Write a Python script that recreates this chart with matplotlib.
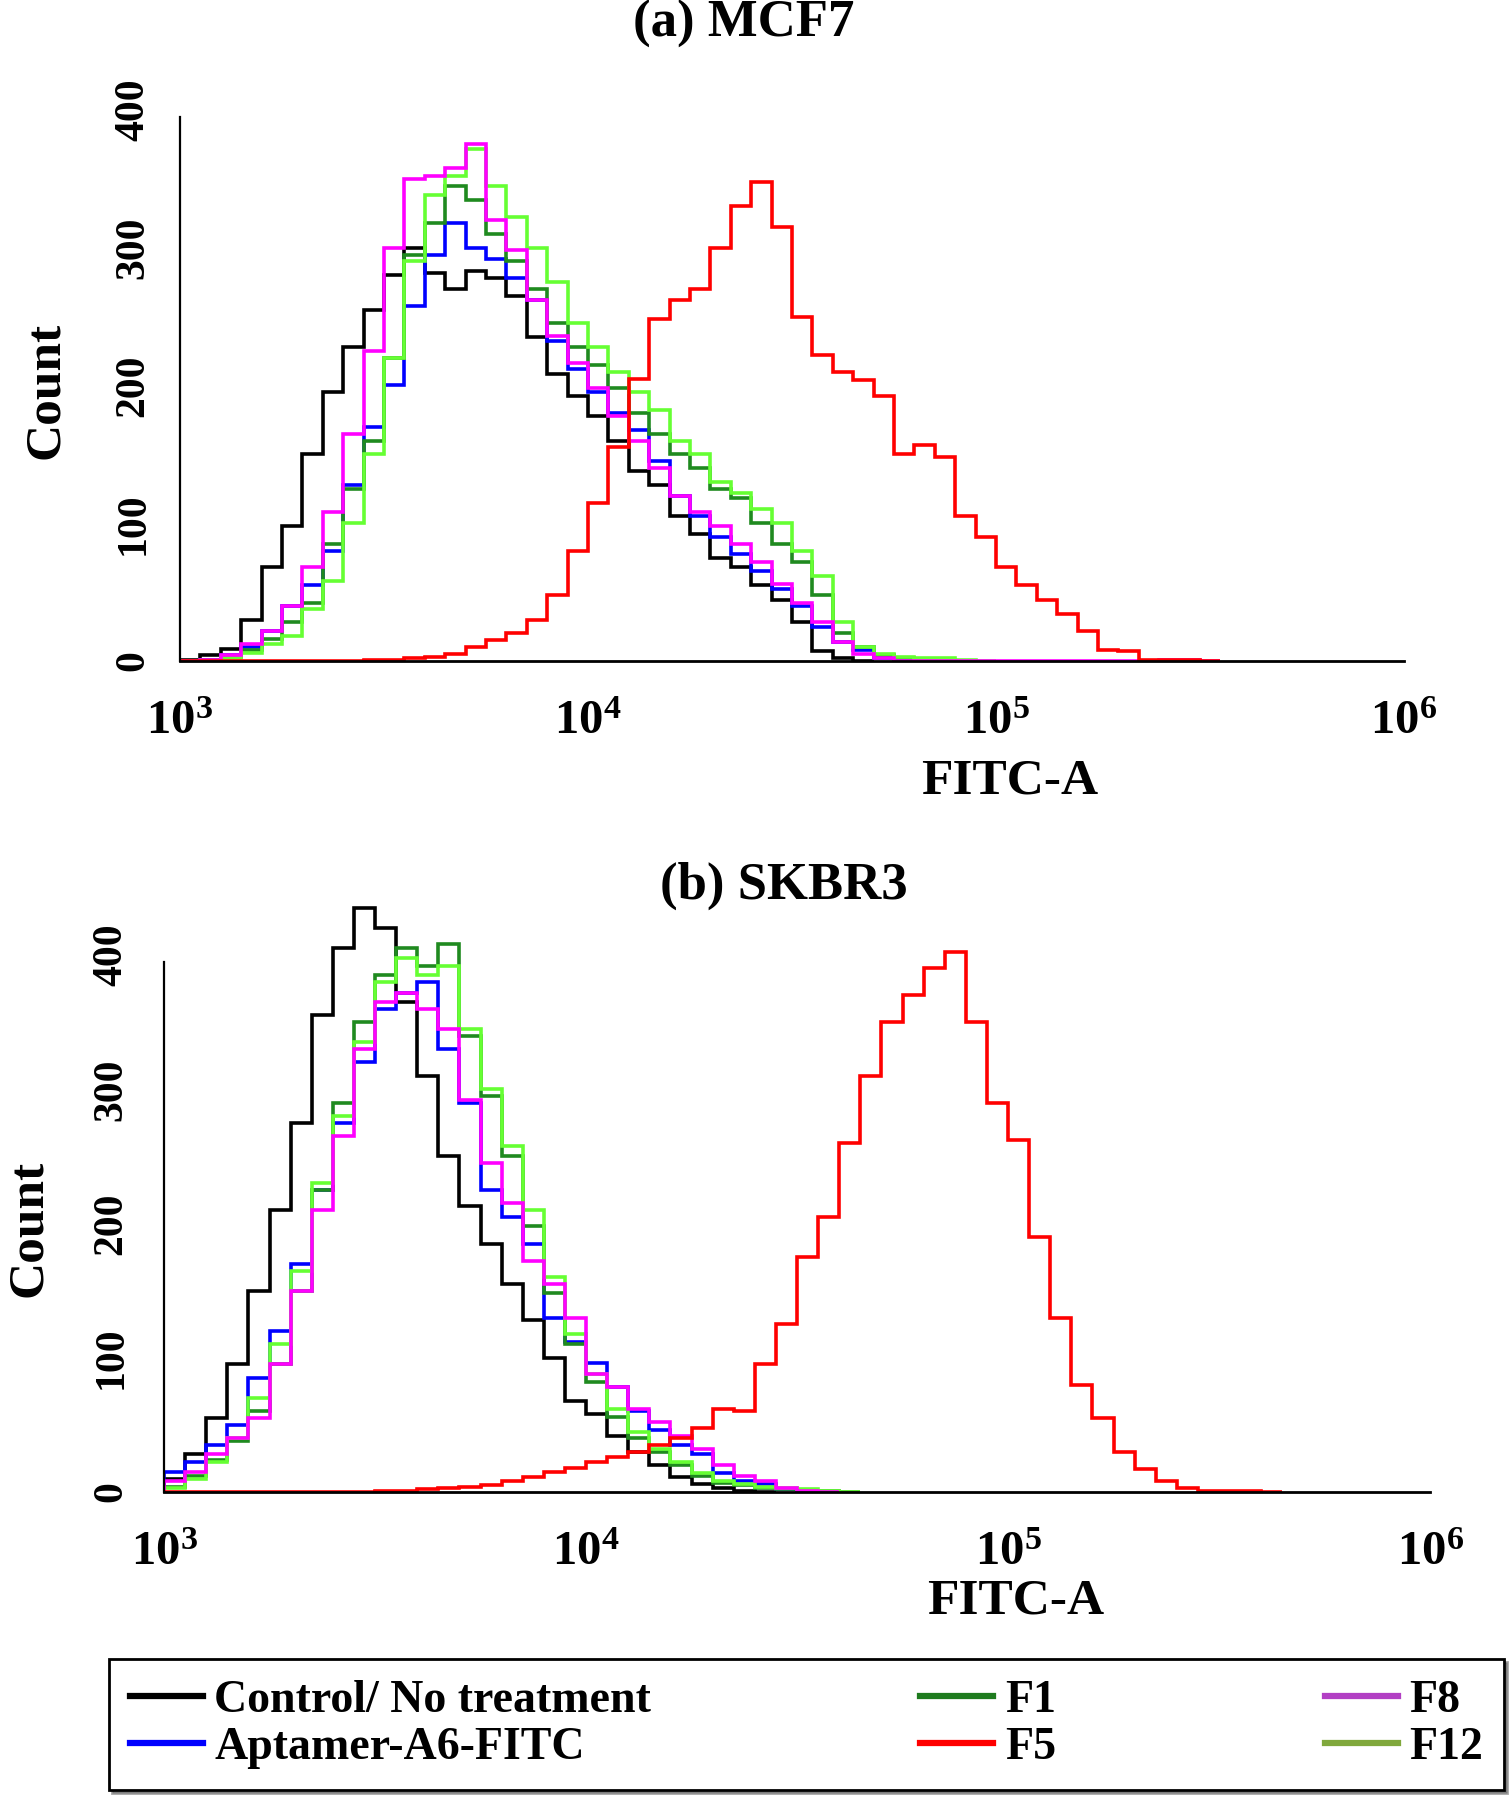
import numpy as np
import matplotlib
matplotlib.use("Agg")
import matplotlib.pyplot as plt
from matplotlib.lines import Line2D

plt.rcParams["font.family"] = ["Liberation Serif", "DejaVu Serif"]
plt.rcParams["font.weight"] = "bold"
plt.rcParams["mathtext.fontset"] = "custom"
plt.rcParams["mathtext.rm"] = "Liberation Serif:bold"
plt.rcParams["mathtext.it"] = "Liberation Serif:bold"
plt.rcParams["mathtext.bf"] = "Liberation Serif:bold"

# histogram bins: log10 start and width (decades)
bin_start = 3.0
bin_width = 0.05

# ---- (a) MCF7 counts per bin ----
mcf7_control = [1, 4, 9, 30, 68, 98, 150, 195, 228, 255, 280, 300, 282, 270, 283, 278, 265, 235,
                208, 192, 178, 160, 138, 128, 105, 92, 75, 68, 55, 44, 28, 7, 2, 0]
mcf7_aptamer = [0, 1, 4, 10, 22, 40, 55, 80, 128, 170, 200, 258, 295, 318, 300, 292, 278, 262,
                232, 212, 195, 180, 168, 145, 120, 105, 90, 78, 65, 52, 40, 25, 14, 8, 2, 1, 0]
mcf7_f1 = [0, 1, 3, 8, 16, 28, 42, 85, 125, 160, 220, 295, 318, 345, 335, 310, 290, 270, 245,
           228, 215, 198, 180, 165, 150, 140, 125, 118, 100, 85, 72, 48, 20, 10, 4, 2, 1, 0]
mcf7_f5 = [0, 0, 0, 0, 0, 0, 0, 0, 0, 1, 1, 2, 3, 5, 10, 15, 20, 30, 48, 80, 115, 155, 205, 248,
           262, 270, 300, 330, 348, 315, 250, 222, 210, 204, 192, 150, 157, 148, 105, 90, 68, 55,
           44, 34, 22, 8, 7, 1, 1, 1, 0]
mcf7_f8 = [0, 1, 4, 12, 22, 40, 68, 108, 165, 225, 300, 350, 352, 358, 375, 320, 298, 262, 236,
           216, 198, 178, 160, 140, 120, 108, 98, 85, 72, 56, 42, 28, 14, 5, 2, 0, 0, 0, 0, 0, 0,
           0, 0, 0, 0, 0, 0, 0, 1, 1, 0]
mcf7_f12 = [0, 0, 2, 6, 12, 18, 38, 58, 100, 150, 220, 290, 338, 352, 372, 345, 322, 300, 275,
            245, 228, 210, 195, 182, 160, 150, 130, 122, 110, 100, 80, 62, 28, 10, 5, 3, 2, 2, 1, 0]

# ---- (b) SKBR3 counts per bin ----
skbr3_control = [10, 28, 55, 95, 150, 210, 275, 355, 405, 435, 420, 365, 310, 250, 213, 185, 155,
                 128, 100, 68, 58, 42, 30, 20, 11, 6, 3, 1, 0]
skbr3_aptamer = [15, 22, 35, 50, 85, 120, 170, 225, 275, 320, 360, 372, 380, 330, 290, 225, 205,
                 185, 130, 112, 96, 78, 60, 46, 35, 28, 14, 8, 6, 2, 0]
skbr3_f1 = [4, 12, 24, 38, 60, 95, 150, 225, 290, 350, 385, 405, 392, 408, 340, 295, 250, 198,
            148, 110, 82, 56, 40, 30, 20, 12, 7, 5, 3, 2, 1, 1, 0]
skbr3_f5 = [0, 0, 0, 0, 0, 0, 0, 0, 0, 0, 1, 1, 2, 3, 4, 5, 8, 11, 15, 18, 22, 26, 30, 35, 40, 48,
            62, 60, 95, 125, 175, 205, 260, 310, 350, 370, 390, 402, 350, 290, 262, 190, 130, 80,
            55, 30, 17, 8, 3, 1, 1, 1, 0]
skbr3_f8 = [8, 15, 28, 40, 55, 95, 150, 210, 265, 330, 365, 372, 360, 345, 292, 245, 215, 172,
            155, 130, 88, 78, 62, 52, 42, 32, 20, 12, 8, 3, 1, 0]
skbr3_f12 = [3, 10, 22, 40, 70, 110, 165, 230, 280, 335, 380, 398, 385, 392, 345, 300, 258, 210,
             160, 118, 88, 62, 45, 32, 22, 14, 8, 6, 4, 3, 2, 1, 0]

labels = ["Control/ No treatment", "Aptamer-A6-FITC", "F1", "F5", "F8", "F12"]
line_colors = ["#000000", "#0000ff", "#1f8a1f", "#ff0000", "#ff00ff", "#66ff33"]
legend_colors = ["#000000", "#0000ff", "#1e7b1e", "#ff0000", "#b23fc4", "#80a83c"]
draw_order = [0, 1, 2, 5, 4, 3]

x_ticks = [1e3, 1e4, 1e5, 1e6]
x_ticklabels = [r"$10^{3}$", r"$10^{4}$", r"$10^{5}$", r"$10^{6}$"]
y_ticks = [0, 100, 200, 300, 400]

fig = plt.figure(figsize=(15.12, 18), dpi=100)


def draw_panel(ax, series, ymax, xpad, ypad):
    for k in draw_order:
        vals = series[k]
        edges = 10 ** (bin_start + bin_width * np.arange(len(vals) + 1))
        ax.stairs(vals, edges, color=line_colors[k], lw=2.6)
    ax.set_xscale("log")
    ax.set_xlim(1e3, 1e6)
    ax.set_ylim(0, ymax)
    ax.set_xticks(x_ticks)
    ax.set_xticklabels(x_ticklabels, fontsize=35)
    ax.minorticks_off()
    ax.set_yticks(y_ticks)
    ax.set_yticklabels([str(v) for v in y_ticks], fontsize=30, fontweight="bold",
                       rotation=90, va="center")
    ax.tick_params(axis="x", length=0, pad=xpad)
    ax.tick_params(axis="y", length=0, pad=ypad)
    for s in ["top", "right"]:
        ax.spines[s].set_visible(False)
    ax.spines["left"].set_linewidth(1.6)
    ax.spines["bottom"].set_linewidth(2.0)
    ax.spines["left"].set_bounds(0, 395)
    ax.spines["bottom"].set_bounds(1e3, 1e6)


ax1 = fig.add_axes([0.119, 0.6328, 0.8095, 0.3061])
draw_panel(ax1, [mcf7_control, mcf7_aptamer, mcf7_f1, mcf7_f5, mcf7_f8, mcf7_f12], 400, 28, 20)

ax2 = fig.add_axes([0.1085, 0.1711, 0.8373, 0.3356])
draw_panel(ax2, [skbr3_control, skbr3_aptamer, skbr3_f1, skbr3_f5, skbr3_f8, skbr3_f12], 450, 28, 24)

# titles and axis labels
fig.text(744 / 1512, 1 - 24 / 1800, "(a) MCF7", fontsize=38, fontweight="bold", ha="center", va="center")
fig.text(784 / 1512, 1 - 886 / 1800, "(b) SKBR3", fontsize=38, fontweight="bold", ha="center", va="center")
fig.text(1010 / 1512, 1 - 781 / 1800, "FITC-A", fontsize=37, fontweight="bold", ha="center", va="center")
fig.text(1016 / 1512, 1 - 1601 / 1800, "FITC-A", fontsize=37, fontweight="bold", ha="center", va="center")
fig.text(46 / 1512, 1 - 390 / 1800, "Count", fontsize=37, fontweight="bold", rotation=90,
         ha="center", va="center")
fig.text(29 / 1512, 1 - 1228 / 1800, "Count", fontsize=37, fontweight="bold", rotation=90,
         ha="center", va="center")

# legend
handles = [Line2D([], [], color=c, lw=4.5) for c in legend_colors]
leg = fig.legend(handles, labels, ncol=3, mode="expand", loc="upper left",
                 bbox_to_anchor=(109 / 1512, 1 - 1659 / 1800, 1395 / 1512, 0),
                 borderaxespad=0, fontsize=33, handlelength=1.6, handletextpad=0.25,
                 labelspacing=0.12, borderpad=0.45, fancybox=False, shadow=True,
                 edgecolor="black", framealpha=1)
leg.get_frame().set_linewidth(2.0)
for t in leg.get_texts():
    t.set_fontweight("bold")

fig.savefig("out.png", dpi=100)
